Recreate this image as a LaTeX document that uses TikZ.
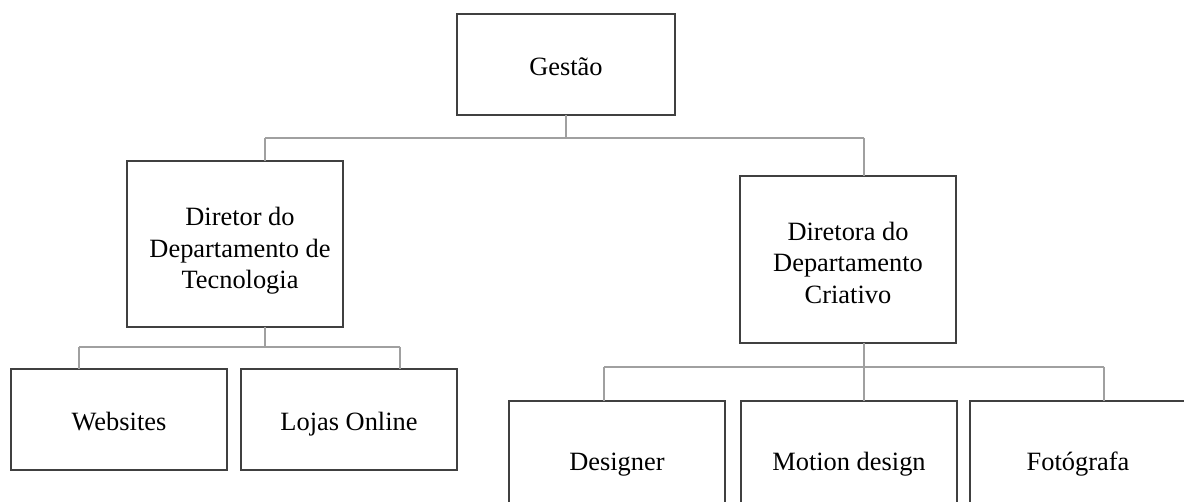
\documentclass[tikz,border=0pt]{standalone}
\usepackage{fontspec}
\setmainfont{Liberation Serif}
\definecolor{boxline}{HTML}{404040}
\definecolor{conline}{HTML}{A0A0A0}
\tikzset{
  orgbox/.style={draw=boxline, line width=1.6pt, rectangle, inner sep=0pt, outer sep=0pt,
    align=center, font=\fontsize{26.4}{32}\selectfont, text=black},
  oneline/.style={text height=23pt, text depth=0pt},
  boxtext/.style={align=center, inner sep=0pt, font=\fontsize{26.4}{31.5}\selectfont, text=black},
  conn/.style={draw=conline, line width=1.6pt}
}
\begin{document}
\begin{tikzpicture}[x=1pt,y=-1pt]
\useasboundingbox (0,0) rectangle (1184,502);
\clip (0,0) rectangle (1184,502);
\fill[white] (0,0) rectangle (1184,502);
% boxes
\node[orgbox, oneline, minimum width=218pt, minimum height=101pt] (gestao) at (566,64.5) {Gestão};
\node[orgbox, minimum width=216pt, minimum height=166pt] (dirt) at (235,244) {};
\node[boxtext] (dirttext) at (240,251) {Diretor do\\Departamento de\\Tecnologia};
\node[orgbox, minimum width=216pt, minimum height=167pt] (dirc) at (848,259.5) {};
\node[boxtext] (dirctext) at (848,262.5) {Diretora do\\Departamento\\Criativo};
\node[orgbox, oneline, minimum width=216pt, minimum height=101pt] (web) at (119,419.5) {Websites};
\node[orgbox, oneline, minimum width=216pt, minimum height=101pt] (loja) at (349,419.5) {Lojas Online};
\node[orgbox, oneline, minimum width=216pt, minimum height=116pt] (des) at (617,459) {Designer};
\node[orgbox, oneline, minimum width=216pt, minimum height=116pt] (mot) at (849,459) {Motion design};
\node[orgbox, oneline, minimum width=216pt, minimum height=116pt] (foto) at (1078,459) {Fotógrafa};
% bus coordinates
\coordinate (b1l) at (265,138);
\coordinate (b1r) at (864,138);
\coordinate (b2t) at (265,327);
\coordinate (b2l) at (79,347);
\coordinate (b2r) at (400,347);
\coordinate (b3t) at (864,343);
\coordinate (b3l) at (604,367);
\coordinate (b3m) at (864,367);
\coordinate (b3r) at (1104,367);
% connectors
\draw[conn] (gestao.south) -- (gestao.south |- b1l);
\draw[conn] (b1l) -- (b1r);
\draw[conn] (b1l) -- (b1l |- dirt.north);
\draw[conn] (b1r) -- (b1r |- dirc.north);
\draw[conn] (b2t |- dirt.south) -- (b2t |- b2l);
\draw[conn] (b2l) -- (b2r);
\draw[conn] (b2l) -- (b2l |- web.north);
\draw[conn] (b2r) -- (b2r |- loja.north);
\draw[conn] (b3t |- dirc.south) -- (b3m);
\draw[conn] (b3l) -- (b3r);
\draw[conn] (b3l) -- (b3l |- des.north);
\draw[conn] (b3m) -- (b3m |- mot.north);
\draw[conn] (b3r) -- (b3r |- foto.north);
\end{tikzpicture}
\end{document}
